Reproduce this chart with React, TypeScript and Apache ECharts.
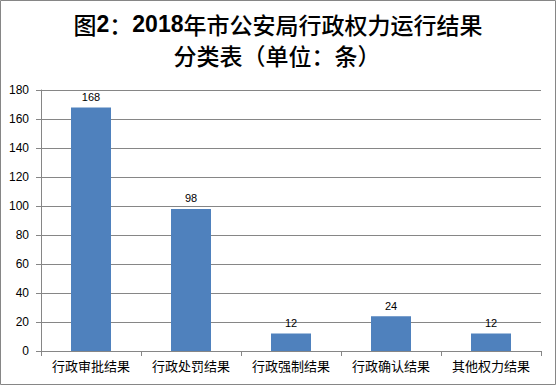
import React, { useEffect, useRef } from "react";
import * as echarts from "echarts";

const titleLine1 = [
  { t: "图", bold: false },
  { t: "2", bold: true },
  { t: "：", bold: false },
  { t: "2018", bold: true },
  { t: "年市公安局行政权力运行结果", bold: false },
];
const titleLine2 = "分类表（单位：条）";
const categories = ["行政审批结果", "行政处罚结果", "行政强制结果", "行政确认结果", "其他权力结果"];
const values = [168, 98, 12, 24, 12];
const yMin = 0;
const yMax = 180;
const yInterval = 20;

export default function App() {
  const ref = useRef<HTMLDivElement>(null);
  useEffect(() => {
    document.body.style.margin = "0";
    if (!ref.current) return;
    const chart = echarts.init(ref.current, undefined, { renderer: "svg" });
    const font = "'Liberation Sans', 'Noto Sans CJK SC', sans-serif";
    const titleText1 = titleLine1.map((s) => `{${s.bold ? "b" : "a"}|${s.t}}`).join("");
    const titleBase = {
      fontFamily: "'Noto Sans CJK SC', sans-serif",
      fontSize: 23,
      lineHeight: 24,
      color: "#000",
    };
    const rich = {
      a: { ...titleBase, fontWeight: 500 },
      b: { ...titleBase, fontFamily: "'Liberation Sans', sans-serif", fontWeight: "bold" },
    };
    chart.setOption({
      animation: false,
      backgroundColor: "#ffffff",
      title: [
        {
          text: titleText1,
          left: 278,
          textAlign: "center",
          top: 12,
          padding: 0,
          textStyle: { ...titleBase, rich },
        },
        {
          text: `{a|${titleLine2}}`,
          left: 277,
          textAlign: "center",
          top: 43,
          padding: 0,
          textStyle: { ...titleBase, rich },
        },
      ],
      graphic: [
        {
          type: "rect",
          shape: { x: 0.5, y: 0.5, width: 555, height: 384 },
          style: { fill: "none", stroke: "#868686", lineWidth: 1 },
          silent: true,
        },
      ],
      grid: { left: 41, right: 16, top: 90, bottom: 35, containLabel: false },
      xAxis: {
        type: "category",
        data: categories,
        axisLine: { show: true, lineStyle: { color: "#868686" } },
        axisTick: { show: true, length: 5, lineStyle: { color: "#868686" } },
        axisLabel: { color: "#000", fontSize: 13, margin: 9, interval: 0, fontFamily: font },
      },
      yAxis: {
        type: "value",
        min: yMin,
        max: yMax,
        interval: yInterval,
        axisLine: { show: true, lineStyle: { color: "#868686" } },
        axisTick: { show: true, length: 5, lineStyle: { color: "#868686" } },
        splitLine: { show: true, lineStyle: { color: "#868686" } },
        axisLabel: { color: "#000", fontSize: 12, margin: 12, fontFamily: font },
      },
      series: [
        {
          type: "bar",
          data: values,
          barWidth: 40,
          itemStyle: { color: "#4F81BD" },
          label: {
            show: true,
            position: "top",
            distance: 5,
            color: "#000",
            fontSize: 11,
            fontFamily: font,
          },
        },
      ],
    });
    return () => chart.dispose();
  }, []);
  return <div ref={ref} style={{ width: 557, height: 386 }} />;
}
